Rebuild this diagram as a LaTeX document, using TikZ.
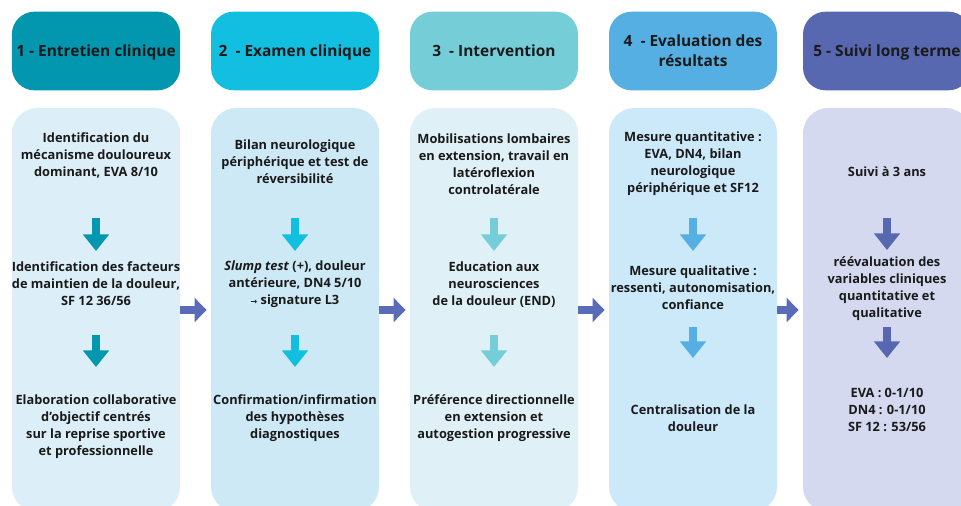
\documentclass[tikz,border=0pt]{standalone}
\usepackage{fontspec}
\setmainfont{Open Sans}
\newfontfamily\symfont{DejaVu Sans}
\usetikzlibrary{arrows.meta,positioning}
\definecolor{head1}{HTML}{0296AF}
\definecolor{head2}{HTML}{12BFE0}
\definecolor{head3}{HTML}{74CDD7}
\definecolor{head4}{HTML}{56AFE3}
\definecolor{head5}{HTML}{5768B1}
\definecolor{pan1}{HTML}{DCEFF8}
\definecolor{pan2}{HTML}{CDE9F5}
\definecolor{pan3}{HTML}{DFF1F7}
\definecolor{pan4}{HTML}{CCE9FA}
\definecolor{pan5}{HTML}{D4D9F0}
\definecolor{nextcol}{HTML}{5A6CB8}
\definecolor{ink}{HTML}{1A1A1A}
\newcommand{\headfont}{\fontsize{11.6}{15}\selectfont\bfseries}
\newcommand{\infofont}{\fontsize{9.6}{12.75}\selectfont\bfseries}

\begin{document}
\begin{tikzpicture}[x=0.75pt,y=-0.75pt,
    head/.style={rounded corners=17pt, minimum width=126pt, minimum height=59pt,
        text depth=0pt, align=center, font=\headfont, text=ink},
    panel/.style={rounded corners=19pt, minimum width=126pt, minimum height=303pt},
    info/.style={align=center, inner sep=0pt, font=\infofont, text=ink},
    down/.style={draw=#1, line width=6pt, -{Triangle[width=19pt,length=12.5pt]}},
    next/.style={draw=nextcol, line width=6pt, shorten >=3pt, -{Triangle[width=17.5pt,length=9pt]}}]
    \useasboundingbox (0,0) rectangle (961,506);
    \clip (0,0) rectangle (961,506);

    \node[head,fill=head1](H1) at (96,51){1 - Entretien clinique};
    \node[head,fill=head2](H2) at (295,51){2\ \ - Examen clinique};
    \node[head,fill=head3](H3) at (494,51){3\ \ - Intervention};
    \node[head,fill=head4](H4) at (693,51){4\ \ - Evaluation des\\résultats};
    \node[head,fill=head5](H5) at (887,51){5 - Suivi long terme};

    \node[panel,fill=pan1](P1) at (96,310){};
    \node[panel,fill=pan2](P2) at (295,310){};
    \node[panel,fill=pan3](P3) at (494,310){};
    \node[panel,fill=pan4](P4) at (693,310){};
    \node[panel,fill=pan5](P5) at (887,310){};

    \node[info](T11) at (96,155){Identification du\\mécanisme douloureux\\dominant, EVA 8/10};
    \node[info](T12) at (96,284){Identification des facteurs\\de maintien de la douleur,\\SF 12 36/56};
    \node[info](T13) at (96,427){Elaboration collaborative\\d’objectif centrés\\sur la reprise sportive\\et professionnelle};

    \node[info](T21) at (295,162){Bilan neurologique\\périphérique et test de\\réversibilité};
    \node[info](T22) at (295,284){\textit{Slump test} (+), douleur\\antérieure, DN4 5/10\\{\symfont\fontsize{6}{6}\selectfont →} signature L3};
    \node[info](T23) at (295,418){Confirmation/infirmation\\des hypothèses\\diagnostiques};

    \node[info](T31) at (494,164){Mobilisations lombaires\\en extension, travail en\\latéroflexion\\controlatérale};
    \node[info](T32) at (494,285){Education aux\\neurosciences\\de la douleur (END)};
    \node[info](T33) at (494,418){Préférence directionnelle\\en extension et\\autogestion progressive};

    \node[info](T41) at (693,164){Mesure quantitative :\\EVA, DN4, bilan\\neurologique\\périphérique et SF12};
    \node[info](T42) at (693,288){Mesure qualitative :\\ressenti, autonomisation,\\confiance};
    \node[info](T43) at (693,418){Centralisation de la\\douleur};

    \node[info](T51) at (887,172){Suivi à 3 ans};
    \node[info](T52) at (887,289){réévaluation des\\variables cliniques\\quantitative et\\qualitative};
    \node[info](T53) at (887,410){EVA : 0-1/10\\DN4 : 0-1/10\\SF 12 : 53/56};

    \coordinate (a11) at (96,218);  \coordinate (b11) at (96,251);
    \coordinate (a12) at (96,335);  \coordinate (b12) at (96,367);
    \coordinate (a21) at (295,218); \coordinate (b21) at (295,251);
    \coordinate (a22) at (295,335); \coordinate (b22) at (295,367);
    \coordinate (a31) at (494,218); \coordinate (b31) at (494,251);
    \coordinate (a32) at (494,335); \coordinate (b32) at (494,367);
    \coordinate (a41) at (693,218); \coordinate (b41) at (693,251);
    \coordinate (a42) at (693,327); \coordinate (b42) at (693,358);
    \coordinate (a51) at (887,218); \coordinate (b51) at (887,250);
    \coordinate (a52) at (887,327); \coordinate (b52) at (887,358);

    \draw[down=head1] (a11) -- (b11);
    \draw[down=head1] (a12) -- (b12);
    \draw[down=head2] (a21) -- (b21);
    \draw[down=head2] (a22) -- (b22);
    \draw[down=head3] (a31) -- (b31);
    \draw[down=head3] (a32) -- (b32);
    \draw[down=head4] (a41) -- (b41);
    \draw[down=head4] (a42) -- (b42);
    \draw[down=head5] (a51) -- (b51);
    \draw[down=head5] (a52) -- (b52);

    \draw[next] (P1) -- (P2);
    \draw[next] (P2) -- (P3);
    \draw[next] (P3) -- (P4);
    \draw[next] (P4) -- (P5);
\end{tikzpicture}
\end{document}
